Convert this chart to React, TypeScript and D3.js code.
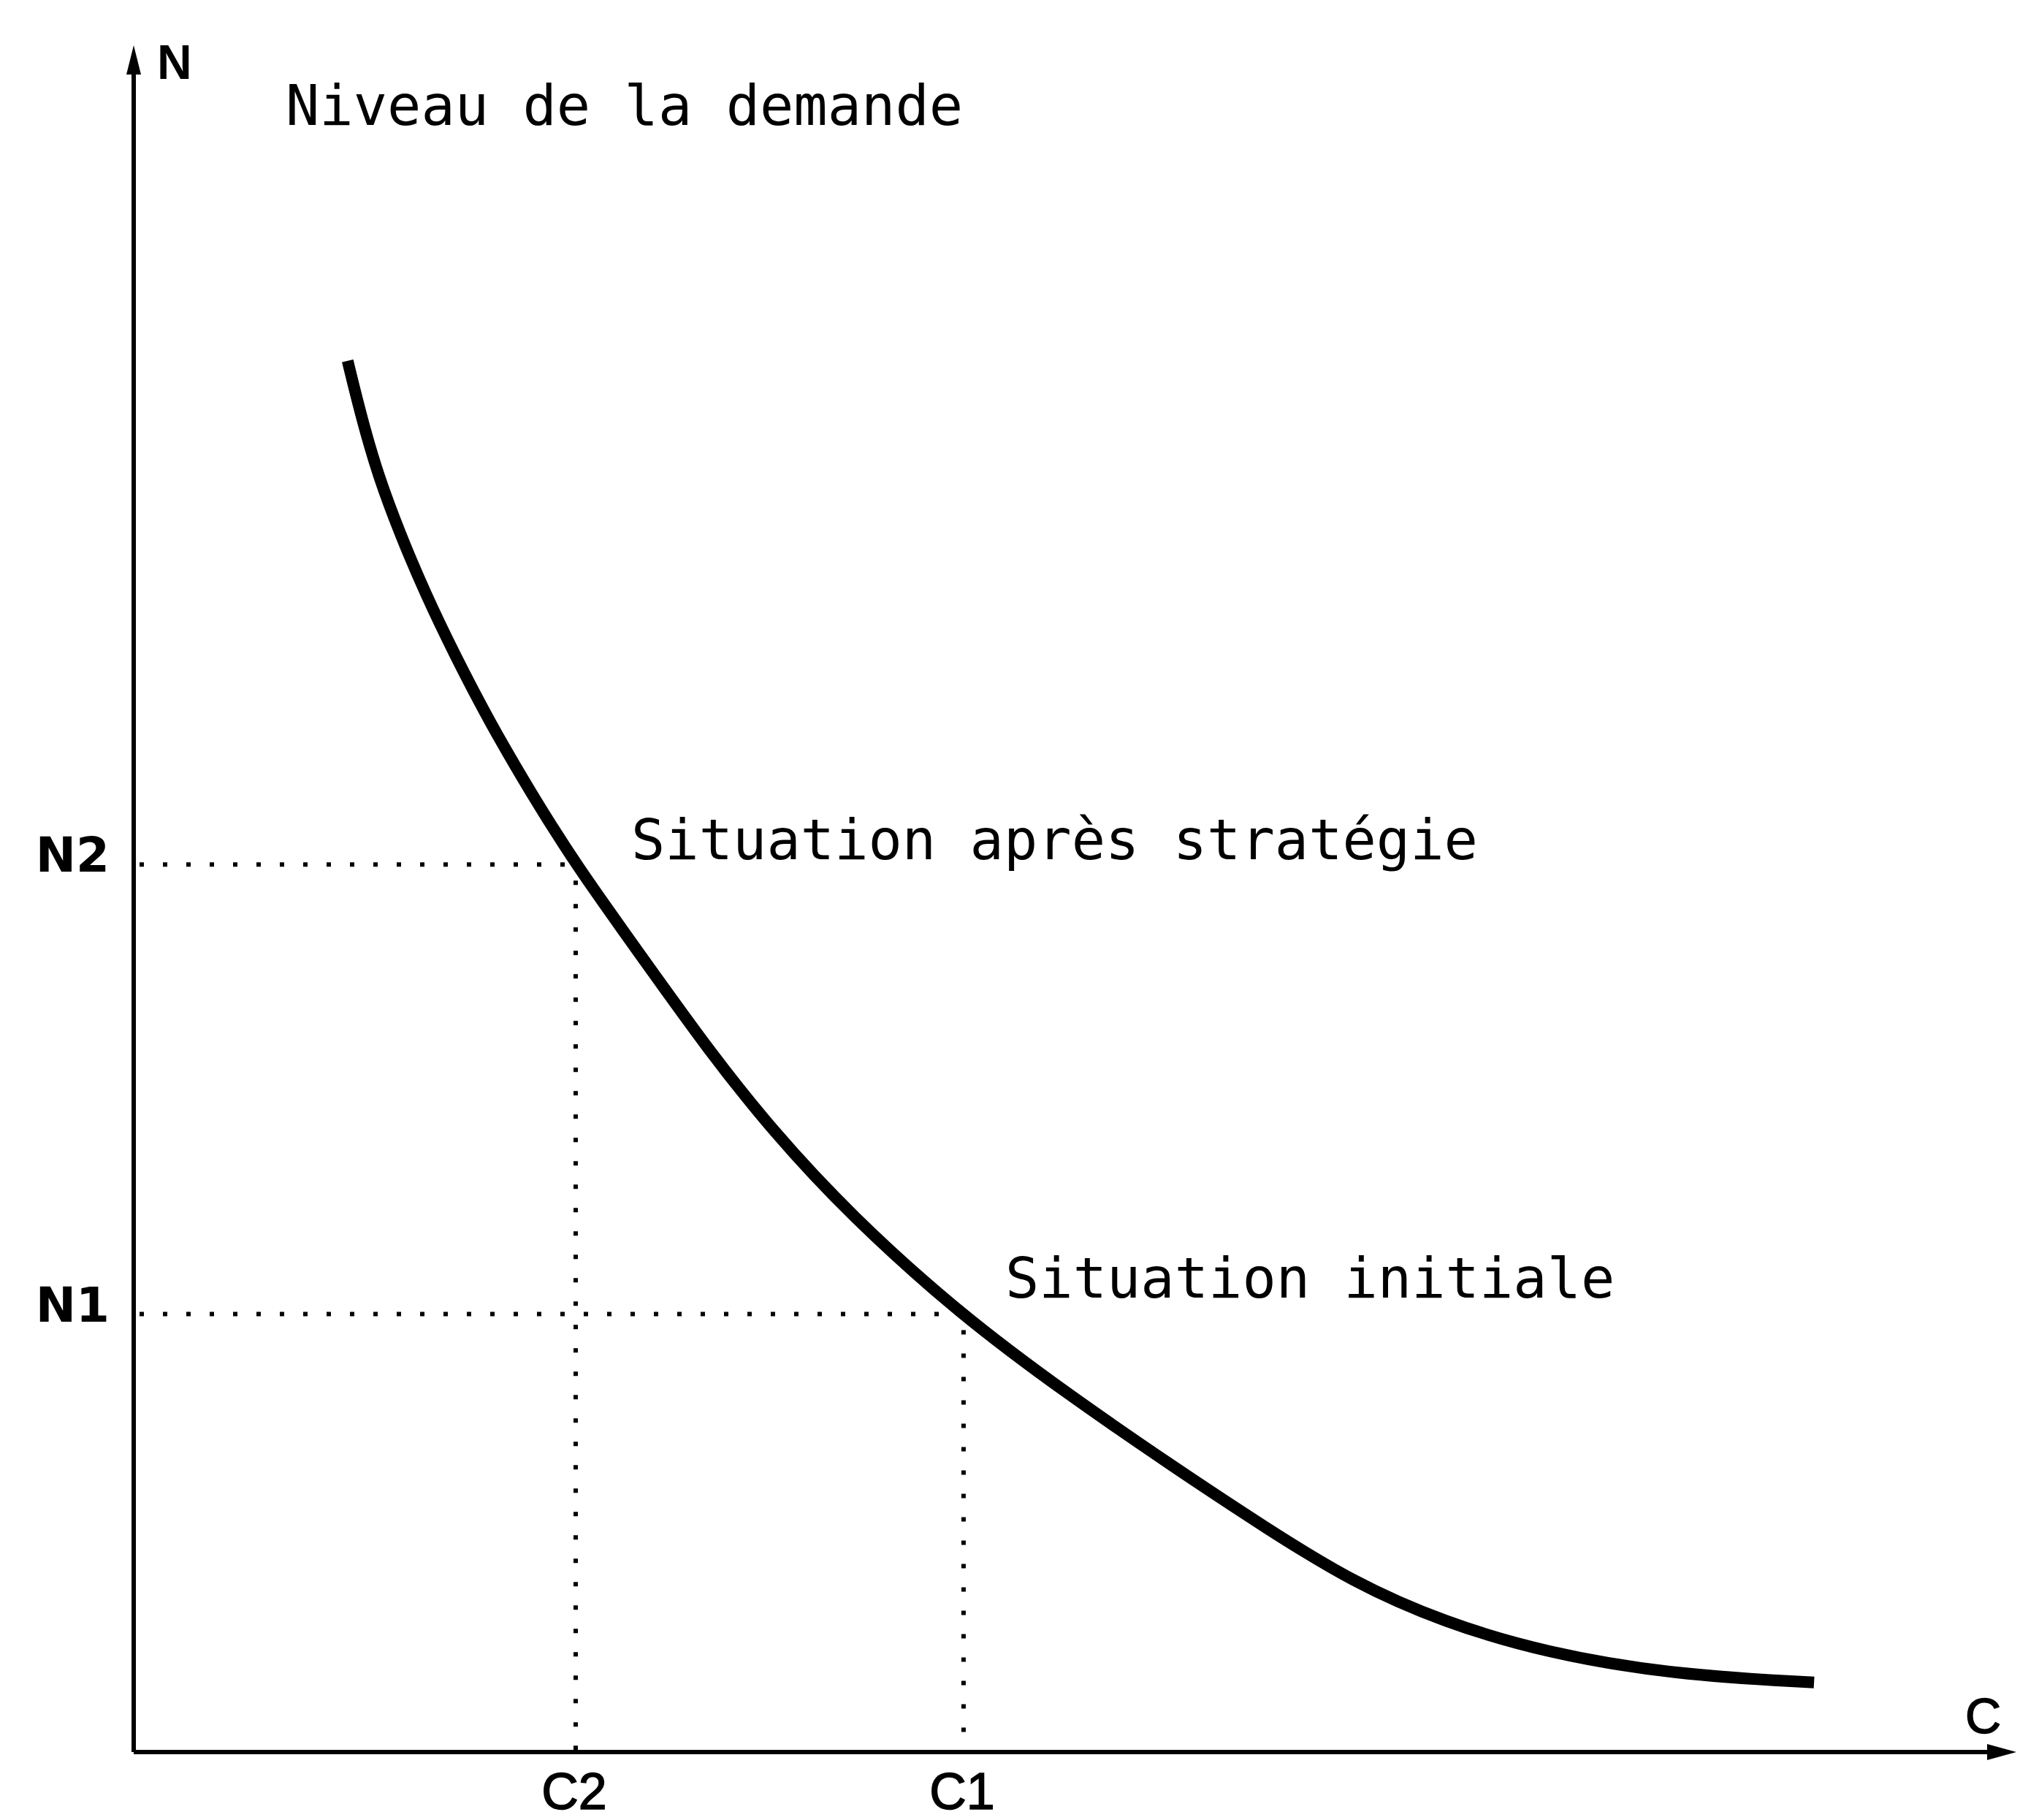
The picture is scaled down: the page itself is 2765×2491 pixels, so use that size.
import React from 'react';
import * as d3 from 'd3';

// Demand curve (C = cost, N = demand level), in chart units
const curveC = [166, 177, 190, 207, 226, 250, 276, 308, 343, 396, 446, 496, 556, 641, 726, 806, 880, 946, 1016, 1096, 1196, 1304];
const curveN = [1080, 1035, 990, 945, 900, 850, 800, 745, 689, 615, 545, 482, 417, 340, 277, 222, 173, 132, 101, 77, 60, 54];

// Marked situations
const situationLabels = ['Situation après stratégie', 'Situation initiale'];
const situationC = [343, 644];
const situationN = [689, 340];
const cTickLabels = ['C2', 'C1'];
const nTickLabels = ['N2', 'N1'];

const W = 2765;
const H = 2491;

const App = () => {
  // Axis origin and extent
  const x = d3.scaleLinear().domain([0, 1461]).range([183, 2760]);
  const y = d3.scaleLinear().domain([0, 1325]).range([2398, 62]);

  const points: [number, number][] = curveC.map((c, i) => [c, curveN[i]]);
  const line = d3
    .line<[number, number]>()
    .x((d) => x(d[0]))
    .y((d) => y(d[1]))
    .curve(d3.curveBasis);

  const x0 = x(0);
  const y0 = y(0);
  const monoFont = '"DejaVu Sans Mono", "Liberation Mono", monospace';
  const sansFont = '"Liberation Sans", Arial, sans-serif';

  return (
    <svg width={W} height={H} style={{ position: 'absolute', left: 0, top: 0, background: '#fff' }}>
      {/* dotted guides */}
      {situationC.map((c, i) => (
        <g key={'g' + i} stroke="#000" strokeWidth={6} strokeDasharray="6,26" fill="none">
          <line x1={x0 + 8} y1={y(situationN[i])} x2={x(c)} y2={y(situationN[i])} />
          <line x1={x(c)} y1={y(situationN[i]) + 22} x2={x(c)} y2={y0} />
        </g>
      ))}

      {/* axes */}
      <line x1={x0} y1={y0} x2={x0} y2={y(1325) + 30} stroke="#000" strokeWidth={6} />
      <line x1={x0} y1={y0} x2={x(1461) - 30} y2={y0} stroke="#000" strokeWidth={6} />
      <path d={`M${x0},${y(1325)} L${x0 - 10},${y(1325) + 40} L${x0 + 10},${y(1325) + 40} Z`} fill="#000" />
      <path d={`M${x(1461)},${y0} L${x(1461) - 40},${y0 - 11} L${x(1461) - 40},${y0 + 11} Z`} fill="#000" />

      {/* curve */}
      <path d={line(points) || ''} fill="none" stroke="#000" strokeWidth={16} strokeLinecap="butt" strokeLinejoin="round" />

      {/* axis titles */}
      <text x={x0 + 32} y={108} fontFamily={sansFont} fontWeight="bold" fontSize={66}>N</text>
      <text x={391} y={171} fontFamily={monoFont} fontSize={77}>Niveau de la demande</text>
      <text x={2690} y={2372} fontFamily={sansFont} fontSize={68} stroke="#000" strokeWidth={1.5}>C</text>

      {/* tick labels */}
      {nTickLabels.map((t, i) => (
        <text key={t} x={150} y={y(situationN[i]) + 10} textAnchor="end" fontFamily='"DejaVu Sans", sans-serif' fontWeight="bold" fontSize={66}>{t}</text>
      ))}
      {cTickLabels.map((t, i) => (
        <text key={t} x={x(situationC[i]) - 2} y={2476} textAnchor="middle" fontFamily={sansFont} fontSize={70} stroke="#000" strokeWidth={1.5}>{t}</text>
      ))}

      {/* situation labels */}
      {situationLabels.map((t, i) => (
        <text key={t} x={x(situationC[i]) + (i === 0 ? 76 : 57)} y={y(situationN[i]) - 8 + (i === 0 ? 1 : -15)} fontFamily={monoFont} fontSize={77}>{t}</text>
      ))}
    </svg>
  );
};

export default App;
